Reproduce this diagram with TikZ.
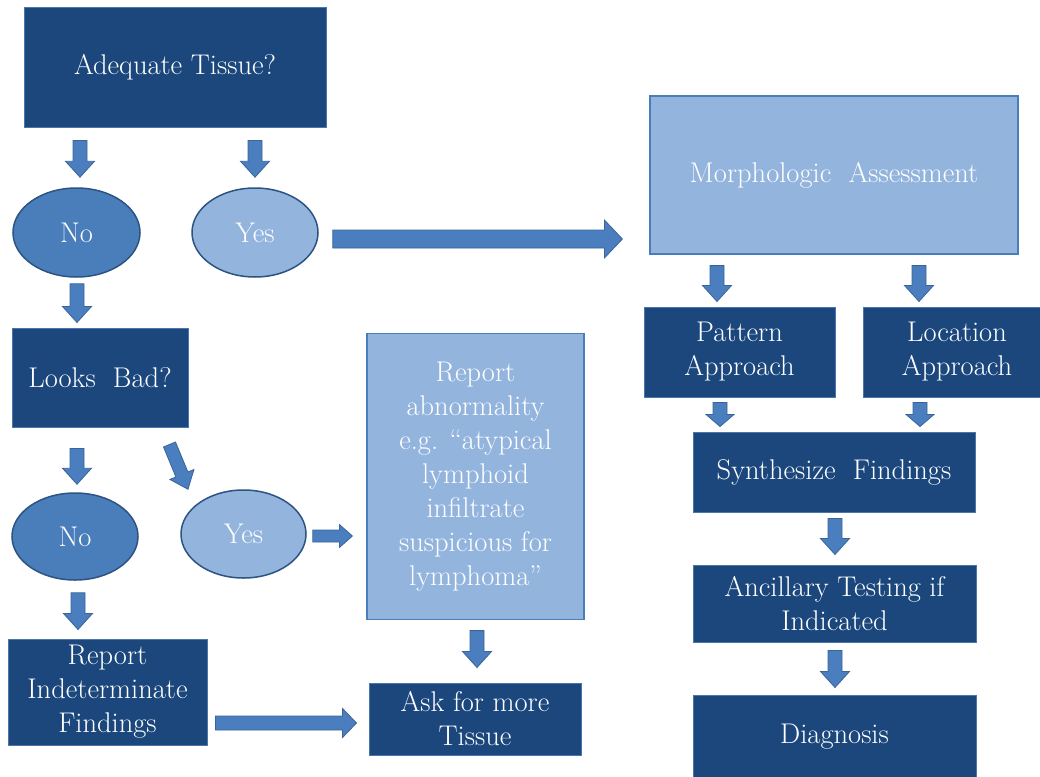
\documentclass[tikz,border=0pt]{standalone}
\usetikzlibrary{calc,shapes.geometric}
\definecolor{dk}{HTML}{1B477D}
\definecolor{dkbd}{HTML}{4A76AE}
\definecolor{md}{HTML}{4A7EBB}
\definecolor{lt}{HTML}{93B4DD}
\definecolor{elbd}{HTML}{2C5382}
\definecolor{arf}{HTML}{4A7EBF}
\definecolor{arb}{HTML}{3A6598}
\newcommand{\barrow}[5]{%
  \coordinate (ba-s) at #1; \coordinate (ba-e) at #2;
  \coordinate (ba-c) at ($(ba-e)!#5!(ba-s)$);
  \draw[blockarrow] ($(ba-s)!#3!90:(ba-e)$) -- ($(ba-c)!#3!90:(ba-e)$) -- ($(ba-c)!#4!90:(ba-e)$)
    -- (ba-e) -- ($(ba-c)!#4!-90:(ba-e)$) -- ($(ba-c)!#3!-90:(ba-e)$) -- ($(ba-s)!#3!-90:(ba-e)$) -- cycle;}
\begin{document}
\begin{tikzpicture}[x=1pt,y=-1pt,
  every node/.style={text=white,align=center,inner sep=0pt,font=\fontsize{28.5}{34}\selectfont},
  darkbox/.style={rectangle,fill=dk,draw=dkbd,line width=1pt},
  lightbox/.style={rectangle,fill=lt,draw=md,line width=1.2pt},
  mdell/.style={ellipse,fill=md,draw=elbd,line width=1.5pt},
  ltell/.style={ellipse,fill=lt,draw=elbd,line width=1.5pt},
  blockarrow/.style={fill=arf,draw=arb,line width=0.8pt,line join=miter}]
\useasboundingbox (0,0) rectangle (1040,776);
\clip (0,0) rectangle (1040,776);
\fill[white] (0,0) rectangle (1040,776);
% nodes
\node[darkbox,minimum width=302pt,minimum height=119pt] (adq) at (175,67.5) {Adequate Tissue?};
\node[mdell,minimum width=127pt,minimum height=89pt] (no1) at (76.5,232.5) {No};
\node[ltell,minimum width=126pt,minimum height=89pt] (yes1) at (255,232.5) {Yes};
\node[lightbox,minimum width=368pt,minimum height=158pt] (morph) at (834,175) {Morphologic\ \ Assessment};
\node[darkbox,minimum width=191pt,minimum height=90pt] (pat) at (739.5,352) {Pattern\\Approach};
\node[darkbox,minimum width=188pt,minimum height=90pt] (loc) at (957,352) {Location\\Approach};
\node[darkbox,minimum width=282pt,minimum height=80pt] (syn) at (834,472) {Synthesize\ \ Findings};
\node[darkbox,minimum width=283pt,minimum height=77pt] (anc) at (834.5,603.5) {Ancillary Testing if\\Indicated};
\node[darkbox,minimum width=283pt,minimum height=84pt] (diag) at (834.5,737) {Diagnosis};
\node[darkbox,minimum width=176pt,minimum height=99pt] (looks) at (100,377.5) {Looks\ \ Bad?};
\node[mdell,minimum width=126pt,minimum height=87pt] (no2) at (75,536.5) {No};
\node[ltell,minimum width=125pt,minimum height=88pt] (yes2) at (243.5,534) {Yes};
\node[lightbox,minimum width=217pt,minimum height=286pt] (rep) at (475.5,476.5) {Report\\abnormality\\e.g. “atypical\\lymphoid\\infiltrate\\suspicious for\\lymphoma”};
\node[darkbox,minimum width=212pt,minimum height=72pt] (ask) at (475,719) {Ask for more\\Tissue};
\node[darkbox,minimum width=199pt,minimum height=106pt] (ind) at (107.5,692) {Report\\Indeterminate\\Findings};
% connectors
\barrow{($(adq.south -| no1)+(3.5,13)$)}{($(no1.north)+(3.5,-10)$)}{7pt}{14.5pt}{16pt}
\barrow{($(adq.south -| yes1)+(0,13)$)}{($(yes1.north)+(0,-10)$)}{7pt}{14.5pt}{16pt}
\barrow{($(yes1.east)+(14,6.5)$)}{($(yes1.east -| morph.west)+(-27,6.5)$)}{9pt}{19pt}{18pt}
\barrow{($(no1.south)+(0.5,6)$)}{($(looks.north -| no1.south)+(0.5,-5)$)}{7pt}{14.5pt}{16pt}
\barrow{($(looks.south -| no2)+(2,21)$)}{($(no2.north)+(2,-8)$)}{7pt}{14.5pt}{16pt}
\barrow{($(looks.south east)+(-19,17)$)}{($(yes2.north)+(-55.5,0)$)}{6.5pt}{13pt}{16pt}
\barrow{($(yes2.east)+(6,2)$)}{($(yes2.east -| rep.west)+(-14,2)$)}{6pt}{11.5pt}{13pt}
\barrow{($(no2.south)+(3,12)$)}{($(ind.north -| no2.south)+(3,-9)$)}{7pt}{14.5pt}{16pt}
\barrow{($(ind.east)+(8,31)$)}{($(ind.east -| ask.west)+(-12,31)$)}{7pt}{14.5pt}{14pt}
\barrow{($(rep.south)+(1.5,10.5)$)}{($(ask.north)+(2,-15)$)}{7pt}{14.5pt}{16pt}
\barrow{($(morph.south -| pat)+(-22.5,11)$)}{($(pat.north)+(-22.5,-5)$)}{7pt}{14.5pt}{16pt}
\barrow{($(morph.south -| loc)+(-38,11)$)}{($(loc.north)+(-38,-5)$)}{7pt}{14.5pt}{16pt}
\barrow{($(pat.south)+(-19.5,5)$)}{($(syn.north -| pat.south)+(-19.5,-5)$)}{7pt}{14pt}{12pt}
\barrow{($(loc.south)+(-37,5)$)}{($(syn.north -| loc.south)+(-37,-5)$)}{7pt}{14pt}{12pt}
\barrow{($(syn.south)+(1,6)$)}{($(anc.north)+(0.5,-10)$)}{7pt}{14.5pt}{16pt}
\barrow{($(anc.south)+(0.5,8)$)}{($(diag.north)+(0.5,-7)$)}{7pt}{14.5pt}{16pt}
\end{tikzpicture}
\end{document}
